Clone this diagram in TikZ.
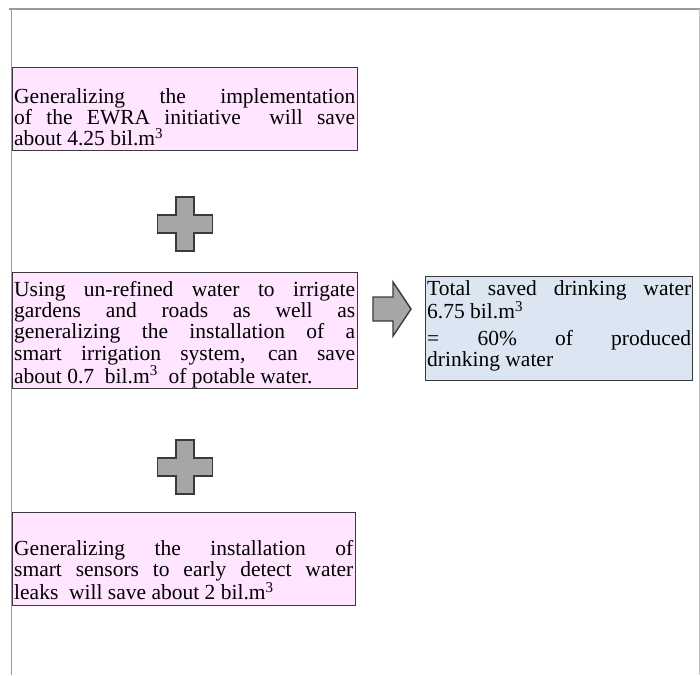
\documentclass[tikz,border=0pt]{standalone}
\usepackage{fontspec}
\setmainfont{Liberation Serif}
\definecolor{pinkfill}{HTML}{FFE5FF}
\definecolor{bluefill}{HTML}{DCE6F2}
\definecolor{crossfill}{HTML}{A6A6A6}
\definecolor{crossline}{HTML}{3A3A3A}
\definecolor{boxline}{HTML}{3A3A3A}
\definecolor{frameline}{HTML}{9A9A9A}
\tikzset{
  boxp/.style={draw=boxline, line width=1pt, fill=pinkfill, rectangle, inner sep=0pt, anchor=north west},
  boxb/.style={draw=boxline, line width=1pt, fill=bluefill, rectangle, inner sep=0pt, anchor=north west},
  txt/.style={inner sep=0pt, anchor=north west, align=justify,
    font=\fontsize{21.5}{21.2}\selectfont},
  shapegrey/.style={draw=crossline, line width=1.4pt, fill=crossfill, line join=miter},
  framel/.style={draw=frameline, line width=1.4pt}
}
\hbadness=10000
\begin{document}
\begin{tikzpicture}[x=1pt,y=-1pt]
\useasboundingbox (0,0) rectangle (700,675);
% frame
\coordinate (ftl) at (9,9);
\coordinate (ftr) at (700,9);
\coordinate (fl) at (11.5,9);
\coordinate (flb) at (11.5,675);
\coordinate (fr) at (699,9);
\coordinate (frb) at (699,675);
\draw[framel] (ftl) -- (ftr);
\draw[framel] (fl) -- (flb);
\draw[draw=frameline!60, line width=1pt] (fr) -- (frb);

% box 1
\node[boxp, minimum width=345pt, minimum height=83pt] (b1) at (12,67) {};
\node[txt, text width=341pt] (t1) at (14,88.2)
{Generalizing the implementation\linebreak of the EWRA initiative\ \ will save\linebreak about 4.25 bil.m\textsuperscript{3}};

% cross 1
\coordinate (c1) at (185,224);
\draw[shapegrey, shift={(c1)}]
 (-9,-27) -- (9,-27) -- (9,-9) -- (27.5,-9) -- (27.5,9) -- (9,9) -- (9,27)
 -- (-9,27) -- (-9,9) -- (-27.5,9) -- (-27.5,-9) -- (-9,-9) -- cycle;

% box 2
\node[boxp, minimum width=345pt, minimum height=116pt] (b2) at (12,272) {};
\node[txt, text width=341pt] (t2) at (14,281.2)
{Using un-refined water to irrigate\linebreak gardens and roads as well as\linebreak generalizing the installation of a\linebreak smart irrigation system, can save\linebreak about 0.7\ \ bil.m\textsuperscript{3}\ \ of potable water.};

% cross 2
\coordinate (c2) at (185,467);
\draw[shapegrey, shift={(c2)}]
 (-9,-27) -- (9,-27) -- (9,-9) -- (27.5,-9) -- (27.5,9) -- (9,9) -- (9,27)
 -- (-9,27) -- (-9,9) -- (-27.5,9) -- (-27.5,-9) -- (-9,-9) -- cycle;

% box 3
\node[boxp, minimum width=343pt, minimum height=93pt] (b3) at (12,512) {};
\node[txt, text width=339pt] (t3) at (14,540.2)
{Generalizing the installation of\linebreak smart sensors to early detect water\linebreak leaks\ \ will save about 2 bil.m\textsuperscript{3}};

% arrow
\coordinate (a0) at (373,309);
\draw[shapegrey, shift={(a0)}]
 (0,-12) -- (20,-12) -- (20,-27) -- (38,0) -- (20,27) -- (20,12) -- (0,12) -- cycle;

% box 4
\node[boxb, minimum width=267pt, minimum height=104pt] (b4) at (425,276) {};
\node[txt, text width=264pt] (t4) at (427,280.7)
{Total saved drinking water\linebreak 6.75 bil.m\textsuperscript{3}\par\vspace{5pt}
= 60\% of produced\linebreak drinking water};
\end{tikzpicture}
\end{document}
